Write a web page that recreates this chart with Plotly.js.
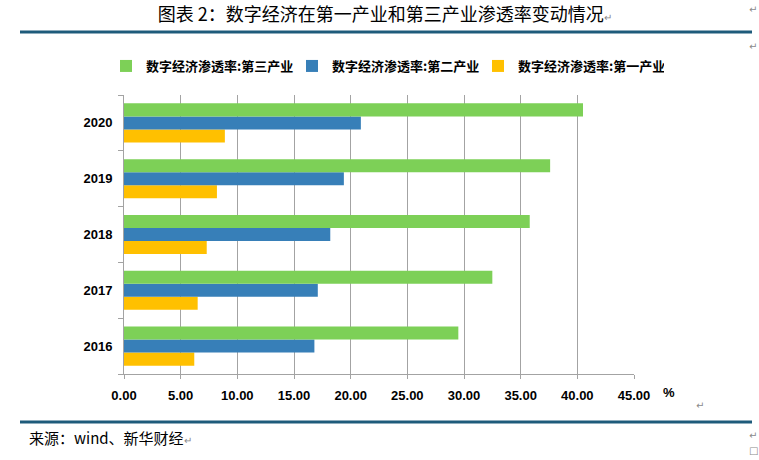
<!DOCTYPE html>
<html>
<head>
<meta charset="utf-8">
<script src="https://cdn.plot.ly/plotly-3.0.1.min.js"></script>
<style>
  html, body { margin: 0; padding: 0; background: #fff; }
  #chart { width: 759px; height: 460px; }
</style>
</head>
<body>
<div id="chart"></div>
<script>
var years = ['2016', '2017', '2018', '2019', '2020'];
var primaryRate = [6.2, 6.5, 7.3, 8.2, 8.9];
var secondaryRate = [16.8, 17.1, 18.2, 19.4, 20.9];
var tertiaryRate = [29.5, 32.5, 35.8, 37.6, 40.5];
var seriesNames = ['数字经济渗透率:第一产业', '数字经济渗透率:第二产业', '数字经济渗透率:第三产业'];

var W = 759, H = 460;
var ml = 124, mr = 125, mt = 95, mb = 86;
var pw = W - ml - mr, ph = H - mt - mb;

// pixel -> paper helpers for decorations
function px(x) { return (x - ml) / pw; }
function py(y) { return (H - mb - y) / ph; }

var cjk = '"Noto Sans CJK SC", "Noto Sans", sans-serif';
var latinBold = '"Liberation Sans", Arial, sans-serif';

function barTrace(values, name, color) {
    return {
        type: 'bar',
        orientation: 'h',
        x: values,
        y: years,
        name: name,
        marker: {color: color},
        hoverinfo: 'none'
    };
}

var data = [
    barTrace(primaryRate, seriesNames[0], '#ffc000'),
    barTrace(secondaryRate, seriesNames[1], '#377fb8'),
    barTrace(tertiaryRate, seriesNames[2], '#7dd057')
];

var markColor = '#8a8a8a';
var lineColor = '#1e5b7b';
var axisGray = '#a3a3a3';

var layout = {
    width: W,
    height: H,
    margin: {l: ml, r: mr, t: mt, b: mb},
    paper_bgcolor: '#fff',
    plot_bgcolor: '#fff',
    barmode: 'group',
    bargap: 0.3,
    bargroupgap: 0,
    title: {
        text: '图表 2：数字经济在第一产业和第三产业渗透率变动情况<span style="font-size:10px;color:#888">↵</span>',
        font: {family: cjk, size: 18, color: '#000'},
        xref: 'container',
        x: 0.507,
        xanchor: 'center',
        yref: 'container',
        y: 1 - 15 / H,
        yanchor: 'middle'
    },
    showlegend: true,
    legend: {
        orientation: 'h',
        traceorder: 'reversed',
        x: px(106),
        xanchor: 'left',
        y: py(66),
        yanchor: 'middle',
        entrywidth: 141,
        font: {family: cjk, size: 13, color: '#000', weight: 'bold'},
        itemwidth: 30
    },
    xaxis: {
        range: [0, 45],
        dtick: 5,
        tick0: 0,
        tickformat: '.2f',
        showgrid: true,
        gridcolor: axisGray,
        gridwidth: 1,
        zeroline: false,
        showline: true,
        linecolor: axisGray,
        ticks: 'outside',
        ticklen: 4,
        tickcolor: axisGray,
        ticklabelstandoff: 5,
        tickfont: {family: latinBold, size: 13, color: '#000', weight: 'bold'},
        fixedrange: true
    },
    yaxis: {
        type: 'category',
        categoryorder: 'array',
        categoryarray: years,
        showgrid: false,
        zeroline: false,
        showline: true,
        linecolor: axisGray,
        ticks: 'outside',
        tickson: 'boundaries',
        ticklen: 5,
        tickcolor: axisGray,
        ticklabelstandoff: 8,
        tickfont: {family: latinBold, size: 13, color: '#000', weight: 'bold'},
        fixedrange: true
    },
    shapes: [
        {type: 'line', xref: 'paper', yref: 'paper', x0: px(20), x1: px(752), y0: py(32), y1: py(32),
         line: {color: lineColor, width: 3}},
        {type: 'line', xref: 'paper', yref: 'paper', x0: px(20), x1: px(752), y0: py(422), y1: py(422),
         line: {color: lineColor, width: 3}}
    ],
    annotations: [
        {xref: 'paper', yref: 'paper', x: px(661), y: py(392), xanchor: 'left', yanchor: 'middle',
         text: '%', showarrow: false, font: {family: latinBold, size: 13, color: '#000', weight: 'bold'}},
        {xref: 'paper', yref: 'paper', x: px(27), y: py(437), xanchor: 'left', yanchor: 'middle',
         text: '来源：wind、新华财经<span style="font-size:10px;color:#888">↵</span>', showarrow: false,
         font: {family: cjk, size: 15, color: '#000'}},
        {xref: 'paper', yref: 'paper', x: px(700), y: py(405), xanchor: 'center', yanchor: 'middle',
         text: '↵', showarrow: false, font: {family: 'DejaVu Sans', size: 10, color: markColor}},
        {xref: 'paper', yref: 'paper', x: px(753), y: py(10), xanchor: 'center', yanchor: 'middle',
         text: '↵', showarrow: false, font: {family: 'DejaVu Sans', size: 10, color: markColor}},
        {xref: 'paper', yref: 'paper', x: px(753), y: py(46), xanchor: 'center', yanchor: 'middle',
         text: '↵', showarrow: false, font: {family: 'DejaVu Sans', size: 10, color: markColor}},
        {xref: 'paper', yref: 'paper', x: px(753), y: py(435), xanchor: 'center', yanchor: 'middle',
         text: '↵', showarrow: false, font: {family: 'DejaVu Sans', size: 10, color: markColor}},
        {xref: 'paper', yref: 'paper', x: px(753), y: py(450), xanchor: 'center', yanchor: 'middle',
         text: '□', showarrow: false, font: {family: 'DejaVu Sans', size: 10, color: markColor}}
    ]
};

Plotly.newPlot('chart', data, layout, {displayModeBar: false, staticPlot: true});
</script>
</body>
</html>
